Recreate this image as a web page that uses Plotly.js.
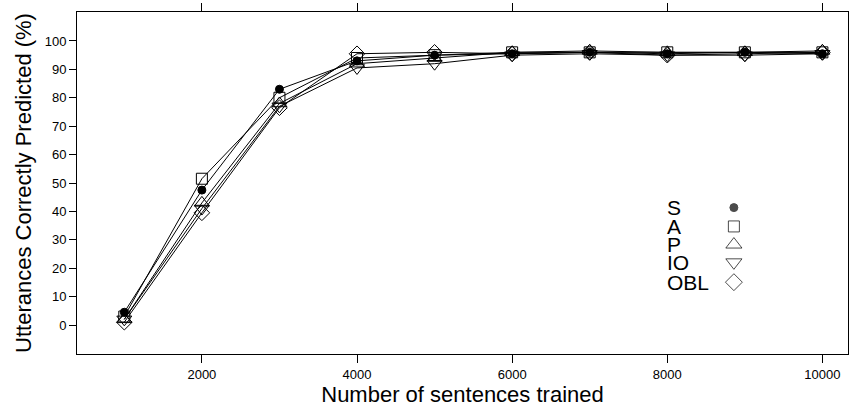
<!DOCTYPE html>
<html><head><meta charset="utf-8">
<script src="https://cdn.plot.ly/plotly-3.0.1.min.js"></script>
<style>html,body{margin:0;padding:0;background:#fff}#chart{width:849px;height:410px}</style>
</head><body><div id="chart"></div>
<script>
const sentences = [1000,2000,3000,4000,5000,6000,7000,8000,9000,10000];
const seriesNames = ["S","A","P","IO","OBL"];
const valS   = [4.5, 47.5, 83.0, 93.0, 95.0, 95.5, 96.0, 95.5, 96.0, 95.5];
const valA   = [3.0, 51.5, 80.0, 94.0, 95.0, 96.0, 96.0, 96.0, 96.0, 96.0];
const valP   = [2.0, 43.0, 78.0, 92.0, 94.0, 96.0, 96.5, 96.0, 96.0, 96.5];
const valIO  = [2.0, 41.0, 77.0, 90.5, 92.0, 95.0, 95.5, 95.0, 95.0, 95.5];
const valOBL = [1.0, 39.5, 76.5, 95.5, 96.0, 95.5, 96.0, 95.0, 95.5, 96.0];
const yTicks = [0,10,20,30,40,50,60,70,80,90,100];
const xTicks = [2000,4000,6000,8000,10000];

const symbols = ["circle","square-open","triangle-up-open","triangle-down-open","diamond-open"];
const sizes = [8,11,13,13,12];
const allVals = [valS,valA,valP,valIO,valOBL];

const traces = allVals.map((v,i)=>({
  x: sentences, y: v, type:'scatter', mode:'lines+markers', name: seriesNames[i],
  line:{color:'#000', width:1},
  marker:{symbol:symbols[i], size:sizes[i], color:'#000', line:{color:'#000', width:1}},
  showlegend:false, cliponaxis:false
}));

// legend key (on a hidden overlay axis in fractions of the plot area)
const keyX = seriesNames.map(()=>0.852);
const keyY = [0.428, 0.373, 0.32, 0.268, 0.21];
const keySym = ["circle","square-open","triangle-up-open","triangle-down-open","diamond-open"];
const keySize = [8,11,14,14,13];
traces.push({x:keyX, y:keyY, xaxis:'x2', yaxis:'y2', type:'scatter', mode:'markers',
  marker:{symbol:keySym, size:keySize, color:'#000', line:{color:'#000', width:1}},
  showlegend:false, hoverinfo:'skip'});

const annotations = seriesNames.map((n,i)=>({
  xref:'x2', yref:'y2', x:0.762, y:keyY[i], text:n, showarrow:false,
  xanchor:'left', yanchor:'middle', font:{family:'Liberation Sans, Arial', size:21, color:'#000'}
}));

const layout = {
  width:849, height:410,
  margin:{l:77, r:1, t:12, b:56},
  paper_bgcolor:'#fff', plot_bgcolor:'#fff',
  font:{family:'Liberation Sans, Arial', color:'#000'},
  xaxis:{range:[390,10330], tickvals:xTicks, ticktext:xTicks.map(String),
    ticks:'outside', ticklen:8, tickcolor:'#000', showline:true, linecolor:'#000', linewidth:1,
    mirror:'ticks', showgrid:false, zeroline:false, tickfont:{size:13},
    title:{text:'Number of sentences trained', font:{size:22}, standoff:4}},
  yaxis:{range:[-10.2,110.2], tickvals:yTicks, ticktext:yTicks.map(String),
    ticks:'outside', ticklen:7, tickcolor:'#000', showline:true, linecolor:'#000', linewidth:1,
    mirror:true, showgrid:false, zeroline:false, tickfont:{size:13},
    title:{text:'Utterances Correctly Predicted (%)', font:{size:22}, standoff:6}},
  xaxis2:{overlaying:'x', range:[0,1], visible:false, fixedrange:true},
  yaxis2:{overlaying:'y', range:[0,1], visible:false, fixedrange:true},
  annotations: annotations,
  showlegend:false
};
Plotly.newPlot('chart', traces, layout, {staticPlot:true});
</script></body></html>
